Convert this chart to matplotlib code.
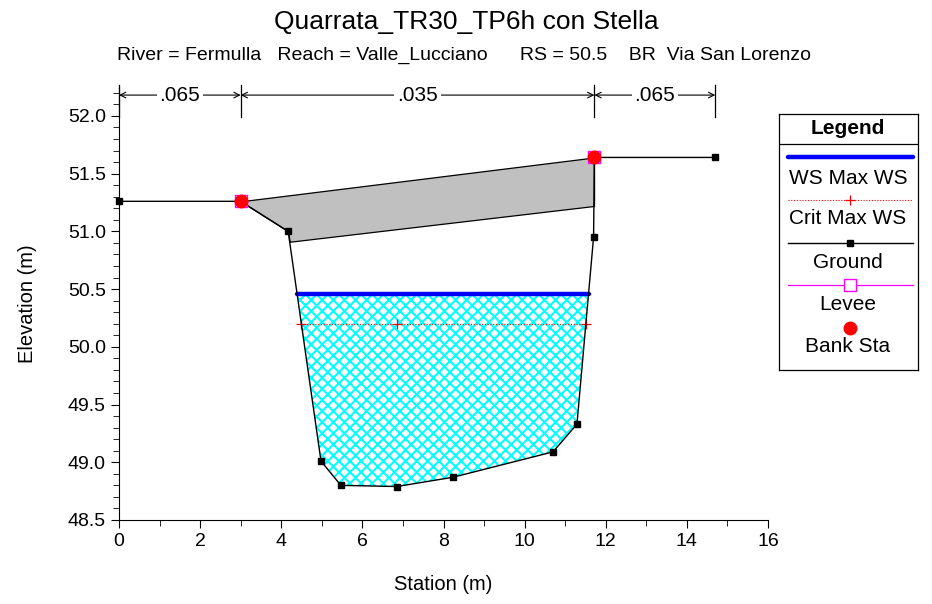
import numpy as np
import matplotlib
matplotlib.use("Agg")
import matplotlib.pyplot as plt
from matplotlib.ticker import MultipleLocator

plt.rcParams['font.family'] = ['Liberation Sans', 'DejaVu Sans']
plt.rcParams['hatch.linewidth'] = 1.5

# Dati della sezione
ground_sta = [0.0, 3.0, 4.17, 4.98, 5.47, 6.85, 8.23, 10.70, 11.29, 11.70, 11.72, 14.70]
ground_elev = [51.26, 51.26, 51.00, 49.01, 48.80, 48.79, 48.87, 49.09, 49.33, 50.95, 51.64, 51.64]
bank_sta = [3.0, 11.72]
bank_elev = [51.26, 51.64]
deck_sta = [3.0, 11.72]
deck_high = [51.26, 51.64]
deck_low = [50.86, 51.22]
ws_max = 50.46
crit_ws = 50.20
n_sta = [0.0, 3.0, 11.72, 14.70]
n_vals = ['.065', '.035', '.065']

gx = np.array(ground_sta)
gy = np.array(ground_elev)


def crossings(level):
    # intersezioni tra il livello e il fondo
    pts = []
    for i in range(len(gx) - 1):
        y0, y1 = gy[i], gy[i + 1]
        if (y0 - level) * (y1 - level) < 0:
            pts.append(gx[i] + (level - y0) / (y1 - y0) * (gx[i + 1] - gx[i]))
    return pts


fig = plt.figure(figsize=(9.32, 6.04), dpi=100)
ax = fig.add_axes([119 / 932, 1 - 520 / 604, 649 / 932, 433 / 604])

# Impalcato del ponte
xs = np.linspace(deck_sta[0], deck_sta[-1], 800)
hi = np.interp(xs, deck_sta, deck_high)
lo = np.maximum(np.interp(xs, deck_sta, deck_low), np.interp(xs, gx, gy))
ax.fill_between(xs, lo, hi, where=lo < hi, facecolor='#c0c0c0', edgecolor='black', linewidth=0.9, zorder=2)
ax.plot([deck_sta[-1], deck_sta[-1]], [deck_low[-1], deck_high[-1]], color='black', lw=0.9, zorder=2)

# Area bagnata
fx = np.linspace(gx[0], gx[-1], 2000)
fy = np.interp(fx, gx, gy)
ax.fill_between(fx, fy, ws_max, where=fy < ws_max, facecolor='white', edgecolor='cyan',
                hatch='xxx', linewidth=0, zorder=1)

# WS max
wl, wr = crossings(ws_max)[0], crossings(ws_max)[-1]
ax.plot([wl, wr], [ws_max, ws_max], color='blue', lw=3.2, solid_capstyle='round', zorder=4)

# Crit WS
cl, cr = crossings(crit_ws)[0], crossings(crit_ws)[-1]
ax.plot([cl, cr], [crit_ws, crit_ws], color='red', lw=0.8, ls=(0, (1, 1.5)), zorder=4)
ax.plot([cl, gx[np.argmin(gy)], cr], [crit_ws] * 3, ls='none', marker='+', color='red', ms=7, mew=0.9, zorder=4)

# Fondo
ax.plot(gx, gy, color='black', lw=1.0, marker='s', ms=5, zorder=5, clip_on=False)

# Argini e sponde
ax.plot(bank_sta, bank_elev, ls='none', marker='s', ms=9, mfc='none', mec='magenta', mew=1, zorder=6)
ax.plot(bank_sta, bank_elev, ls='none', marker='o', ms=9, color='red', zorder=7)

# Valori di Manning
y_arr = 52.18
for x in n_sta:
    ax.plot([x, x], [51.99, 52.27], color='black', lw=0.9, clip_on=False)
for i, n in enumerate(n_vals):
    ax.annotate('', xy=(n_sta[i + 1], y_arr), xytext=(n_sta[i], y_arr),
                arrowprops=dict(arrowstyle='<->', lw=0.8, color='black', shrinkA=0, shrinkB=0),
                annotation_clip=False)
    ax.text((n_sta[i] + n_sta[i + 1]) / 2, y_arr, n, ha='center', va='center', fontsize=15,
            bbox=dict(facecolor='white', edgecolor='none', pad=2), clip_on=False)

ax.set_xlim(0, 16)
ax.set_ylim(48.5, 52.25)
ax.spines['top'].set_visible(False)
ax.spines['right'].set_visible(False)
ax.xaxis.set_major_locator(MultipleLocator(2))
ax.xaxis.set_minor_locator(MultipleLocator(1))
ax.yaxis.set_major_locator(MultipleLocator(0.5))
ax.yaxis.set_minor_locator(MultipleLocator(0.1))
ax.yaxis.set_major_formatter(matplotlib.ticker.FormatStrFormatter('%.1f'))
ax.tick_params(which='major', length=6, labelsize=14)
ax.tick_params(which='minor', length=4)
ax.set_xlabel('Station (m)', fontsize=14.5, labelpad=18)
ax.set_ylabel('Elevation (m)', fontsize=14.5, labelpad=22)

fig.text(0.5, 1 - 22 / 604, 'Quarrata_TR30_TP6h con Stella', ha='center', va='center', fontsize=19)
fig.text(117 / 932, 1 - 55 / 604,
         'River = Fermulla   Reach = Valle_Lucciano      RS = 50.5    BR  Via San Lorenzo',
         ha='left', va='center', fontsize=14)

# Legenda
lg = fig.add_axes([779 / 932, 1 - 370 / 604, 139 / 932, 256 / 604])
lg.set_xlim(779, 918)
lg.set_ylim(370, 114)
lg.set_xticks([])
lg.set_yticks([])
for s in lg.spines.values():
    s.set_linewidth(0.9)
lg.axhline(144, color='black', lw=0.9)
lg.text(848, 129, 'Legend', ha='center', va='center', fontsize=15, fontweight='bold')
lg.plot([788, 913], [157, 157], color='blue', lw=3.2, solid_capstyle='round')
lg.text(848, 178, 'WS Max WS', ha='center', va='center', fontsize=15)
lg.plot([788, 913], [200, 200], color='red', lw=0.8, ls=(0, (1, 1.5)))
lg.plot([850], [200], marker='+', color='red', ms=7, mew=0.9)
lg.text(848, 219, 'Crit Max WS', ha='center', va='center', fontsize=15)
lg.plot([788, 913], [243, 243], color='black', lw=1.0)
lg.plot([850], [243], marker='s', color='black', ms=5)
lg.text(848, 262, 'Ground', ha='center', va='center', fontsize=15)
lg.plot([788, 913], [285, 285], color='magenta', lw=0.9)
lg.plot([850], [285], marker='s', ms=9, mfc='white', mec='magenta', mew=1)
lg.text(848, 304, 'Levee', ha='center', va='center', fontsize=15)
lg.plot([850], [328], marker='o', ms=9, color='red')
lg.text(848, 347, 'Bank Sta', ha='center', va='center', fontsize=15)

fig.savefig('out.png', dpi=100)
